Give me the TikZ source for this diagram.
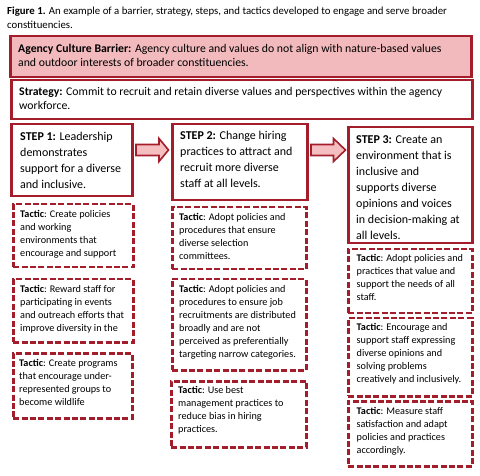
\documentclass[tikz,border=0pt]{standalone}
\usepackage{fontspec}
\setmainfont{Carlito}
\definecolor{dred}{RGB}{163,30,42}
\definecolor{pinkfill}{RGB}{242,186,189}
\definecolor{arrowfill}{RGB}{245,190,193}
\tikzset{
  solidbox/.style={draw=dred, line width=2.5pt, rectangle, inner sep=0pt, anchor=north west},
  barrierbox/.style={solidbox, fill=pinkfill},
  tacticbox/.style={draw=dred, line width=2.5pt, dash pattern=on 6pt off 2.4pt, rectangle, inner sep=0pt, anchor=north west},
  captxt/.style={anchor=north west, inner sep=0pt, align=left, font=\fontsize{10.8}{14}\selectfont},
  bigtxt/.style={anchor=north west, inner sep=0pt, align=left, font=\fontsize{11.75}{14.5}\selectfont},
  steptxt/.style={anchor=north west, inner sep=0pt, align=left, font=\fontsize{12}{16}\selectfont},
  tactxt/.style={anchor=north west, inner sep=0pt, align=left, font=\fontsize{10.2}{13}\selectfont},
  bigarrow/.style={draw=dred, fill=arrowfill, line width=1.6pt, line join=miter}
}
\newcommand{\bx}[6]{\node[#1, minimum width=#4pt-#2pt, minimum height=#5pt-#3pt] (#6) at (#2pt,-#3pt) {};}
\begin{document}
\begin{tikzpicture}[x=1pt,y=1pt]
\useasboundingbox (0,0) rectangle (480,-476);
% caption
\node[captxt] (cap) at (7,-4.2) {\strut\textbf{Figure 1.} An example of a barrier, strategy, steps, and tactics developed to engage and serve broader\\constituencies.};
% barrier and strategy
\bx{barrierbox}{9}{35}{470}{76}{bar}
\node[bigtxt] (bart) at (18,-41.85) {\strut\textbf{Agency Culture Barrier:} Agency culture and values do not align with nature-based values\\and outdoor interests of broader constituencies.};
\bx{solidbox}{10}{79}{471}{118}{str}
\node[bigtxt] (strt) at (19,-84.85) {\strut\textbf{Strategy:} Commit to recruit and retain diverse values and perspectives within the agency\\workforce.};
% steps
\bx{solidbox}{10}{123}{131}{195}{s1}
\node[steptxt] (s1t) at (20,-128.8) {\strut\textbf{STEP 1:} Leadership\\demonstrates\\support for a diverse\\and inclusive.};
\bx{solidbox}{171}{123}{306}{199}{s2}
\node[steptxt] (s2t) at (180,-127.8) {\strut\textbf{STEP 2:} Change hiring\\practices to attract and\\recruit more diverse\\staff at all levels.};
\bx{solidbox}{347}{126}{471}{242}{s3}
\node[steptxt] (s3t) at (356,-131.8) {\strut\textbf{STEP 3:} Create an\\environment that is\\inclusive and\\supports diverse\\opinions and voices\\in decision-making at\\all levels.};
% arrows between steps
\coordinate (a1s) at ([xshift=2.5pt]s1.east |- 0,-150);
\coordinate (a1e) at ([xshift=-2.5pt]s2.west |- 0,-150);
\draw[bigarrow] ([yshift=5.5pt]a1s) -- ([xshift=-9.5pt,yshift=5.5pt]a1e) -- ([xshift=-9.5pt,yshift=11.5pt]a1e) -- (a1e)
  -- ([xshift=-9.5pt,yshift=-11.5pt]a1e) -- ([xshift=-9.5pt,yshift=-5.5pt]a1e) -- ([yshift=-5.5pt]a1s) -- cycle;
\coordinate (a2s) at ([xshift=2.5pt]s2.east |- 0,-150);
\coordinate (a2e) at ([xshift=-1.5pt]s3.west |- 0,-150);
\draw[bigarrow] ([yshift=5.5pt]a2s) -- ([xshift=-12pt,yshift=5.5pt]a2e) -- ([xshift=-12pt,yshift=11.5pt]a2e) -- (a2e)
  -- ([xshift=-12pt,yshift=-11.5pt]a2e) -- ([xshift=-12pt,yshift=-5.5pt]a2e) -- ([yshift=-5.5pt]a2s) -- cycle;
% tactics column 1
\bx{tacticbox}{12}{203}{132}{266}{t1a}
\node[tactxt] (t1at) at (20,-207.9) {\strut\textbf{Tactic}: Create policies\\and working\\environments that\\encourage and support};
\bx{tacticbox}{12}{278}{132}{341}{t1b}
\node[tactxt] (t1bt) at (20,-283.6) {\strut\textbf{Tactic}: Reward staff for\\participating in events\\and outreach efforts that\\improve diversity in the};
\bx{tacticbox}{12}{352}{131}{417}{t1c}
\node[tactxt] (t1ct) at (19,-357) {\strut\textbf{Tactic}: Create programs\\that encourage under-\\represented groups to\\become wildlife};
% tactics column 2
\bx{tacticbox}{171}{206}{305}{268}{t2a}
\node[tactxt] (t2at) at (179,-211) {\strut\textbf{Tactic}: Adopt policies and\\procedures that ensure\\diverse selection\\committees.};
\bx{tacticbox}{171}{278}{305}{369}{t2b}
\node[tactxt] (t2bt) at (179,-283.6) {\strut\textbf{Tactic}: Adopt policies and\\procedures to ensure job\\recruitments are distributed\\broadly and are not\\perceived as preferentially\\targeting narrow categories.};
\bx{tacticbox}{170}{380}{305}{446}{t2c}
\node[tactxt] (t2ct) at (178,-384.2) {\strut\textbf{Tactic}: Use best\\management practices to\\reduce bias in hiring\\practices.};
% tactics column 3
\bx{tacticbox}{347}{248}{471}{312}{t3a}
\node[tactxt] (t3at) at (356.5,-252.6) {\strut\textbf{Tactic}: Adopt policies and\\practices that value and\\support the needs of all\\staff.};
\bx{tacticbox}{347}{317}{471}{395}{t3b}
\node[tactxt] (t3bt) at (356.5,-321.6) {\strut\textbf{Tactic}: Encourage and\\support staff expressing\\diverse opinions and\\solving problems\\creatively and inclusively.};
\bx{tacticbox}{347}{400}{471}{465}{t3c}
\node[tactxt] (t3ct) at (356.5,-405) {\strut\textbf{Tactic}: Measure staff\\satisfaction and adapt\\policies and practices\\accordingly.};
\end{tikzpicture}
\end{document}
